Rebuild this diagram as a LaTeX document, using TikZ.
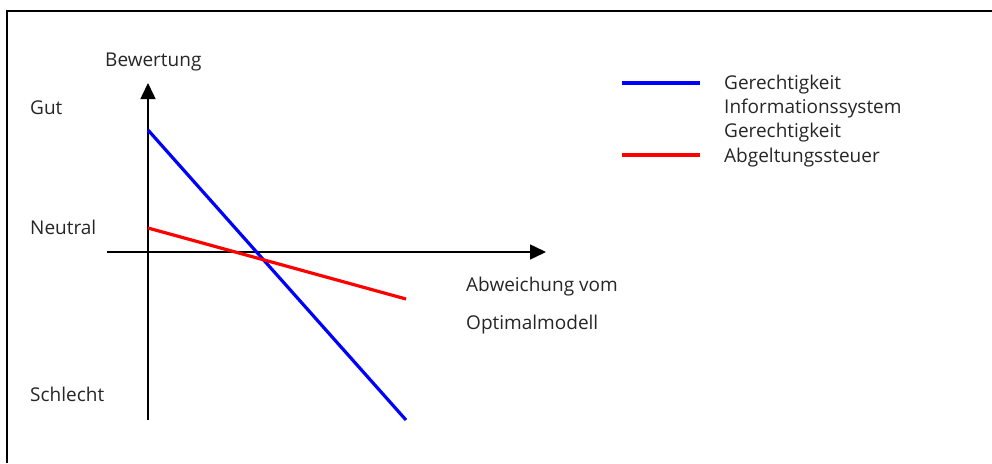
\documentclass[tikz,border=0pt]{standalone}
\usepackage{fontspec}
\setmainfont{Open Sans}
\usetikzlibrary{arrows.meta}
\begin{document}
\begin{tikzpicture}[x=1pt,y=-1pt,
  lbl/.style={anchor=base west,inner sep=0pt,font=\fontsize{19}{22}\selectfont\color{black!85}},
  axis/.style={line width=1.5pt,-{Triangle[length=16pt,width=15pt]}},
  curve/.style={line width=3.2pt}]
\useasboundingbox (0,0) rectangle (992,463);
\draw[line width=2pt] (7,463) -- (7,11) -- (992,11);
% axes
\coordinate (yb) at (148,420);
\coordinate (yt) at (148,83);
\coordinate (xl) at (107,252);
\coordinate (xr) at (546,252);
\draw[axis] (yb) -- (yt);
\draw[axis] (xl) -- (xr);
% curves
\coordinate (b1) at (148,130);
\coordinate (b2) at (406,420);
\coordinate (r1) at (148,228);
\coordinate (r2) at (406,299);
\draw[curve,blue] (b1) -- (b2);
\draw[curve,red] (r1) -- (r2);
% labels
\node[lbl] (bew) at (105,66) {Bewertung};
\node[lbl] (gut) at (30,114) {Gut};
\node[lbl] (neu) at (30,234) {Neutral};
\node[lbl] (sch) at (30,401) {Schlecht};
\node[lbl] (ab1) at (466,291) {Abweichung vom};
\node[lbl] (ab2) at (466,329) {Optimalmodell};
% legend
\coordinate (lb1) at (622,83);
\coordinate (lb2) at (700,83);
\coordinate (lr1) at (622,155);
\coordinate (lr2) at (700,155);
\draw[curve,blue] (lb1) -- (lb2);
\draw[curve,red] (lr1) -- (lr2);
\node[lbl] (g1) at (724,89) {Gerechtigkeit};
\node[lbl] (inf) at (724,113) {Informationssystem};
\node[lbl] (g2) at (724,137) {Gerechtigkeit};
\node[lbl] (abg) at (724,162) {Abgeltungssteuer};
\end{tikzpicture}
\end{document}
